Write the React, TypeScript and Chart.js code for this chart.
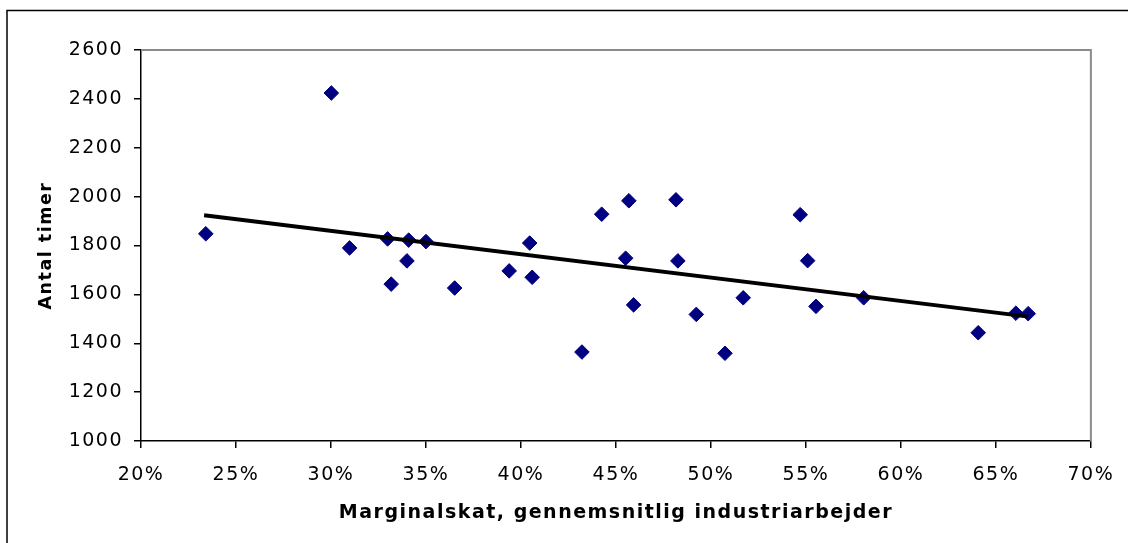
import React, { useEffect, useRef } from 'react';
import { Chart, registerables } from 'chart.js';

Chart.register(...registerables);

// Marginal tax rate (%) for an average industrial worker
const taxRates = [23.41, 30.02, 30.98, 32.98, 33.17, 34.0, 34.09, 35.0, 36.51, 39.38, 40.46, 40.59, 43.21, 44.25, 45.68, 45.51, 45.93, 48.16, 48.26, 49.23, 50.74, 51.7, 54.7, 55.09, 55.53, 58.04, 64.07, 66.05, 66.7];
// Annual working hours
const hours = [1848, 2424, 1790, 1827, 1642, 1737, 1822, 1816, 1626, 1696, 1810, 1670, 1364, 1928, 1983, 1748, 1557, 1987, 1737, 1518, 1359, 1586, 1926, 1738, 1551, 1586, 1443, 1523, 1521];
// Linear trend line end points
const trendX = [23.32, 66.7];
const trendY = [1924, 1509];

const xMin = 20;
const xMax = 70;
const xStep = 5;
const yMin = 1000;
const yMax = 2600;
const yStep = 200;

const xTitle = 'Marginalskat, gennemsnitlig industriarbejder';
const yTitle = 'Antal timer';

const FONT = '"DejaVu Sans", sans-serif';

const framePlugin = {
  id: 'framePlugin',
  beforeDraw(chart: any) {
    const ctx = chart.ctx;
    ctx.letterSpacing = '1.5px';
  },
  afterDraw(chart: any) {
    const ctx = chart.ctx;
    const { top, right, bottom } = chart.chartArea;
    ctx.save();
    ctx.letterSpacing = '0px';
    // gray top & right border of plot area
    ctx.strokeStyle = '#8c8c8c';
    ctx.lineWidth = 2;
    ctx.beginPath();
    ctx.moveTo(chart.chartArea.left, top);
    ctx.lineTo(right, top);
    ctx.lineTo(right, bottom);
    ctx.stroke();
    // outer frame
    ctx.strokeStyle = '#000000';
    ctx.lineWidth = 1.5;
    ctx.strokeRect(7, 10.5, 1300, 700);
    ctx.restore();
  },
};

export default function App() {
  const canvasRef = useRef<HTMLCanvasElement | null>(null);

  useEffect(() => {
    const canvas = canvasRef.current;
    if (!canvas) return;
    const scatterData = taxRates.map((x, i) => ({ x, y: hours[i] }));
    const trendData = trendX.map((x, i) => ({ x, y: trendY[i] }));

    const chart = new Chart(canvas, {
      type: 'scatter',
      data: {
        datasets: [
          {
            type: 'scatter',
            label: 'Lande',
            data: scatterData,
            pointStyle: 'rectRot',
            pointRadius: 7.3,
            pointHoverRadius: 7.3,
            backgroundColor: '#000080',
            borderColor: '#000080',
            borderWidth: 1,
            order: 1,
          },
          {
            type: 'line',
            label: 'Trend',
            data: trendData,
            borderColor: '#000000',
            borderWidth: 4,
            pointRadius: 0,
            fill: false,
            tension: 0,
            order: 0,
          },
        ],
      },
      options: {
        animation: false,
        responsive: false,
        maintainAspectRatio: false,
        layout: { padding: { left: 0, top: 50, right: 36, bottom: 0 } },
        plugins: {
          legend: { display: false },
          tooltip: { enabled: false },
        },
        scales: {
          x: {
            type: 'linear',
            min: xMin,
            max: xMax,
            afterFit: (scale: any) => {
              scale.height = 102;
            },
            ticks: {
              stepSize: xStep,
              autoSkip: false,
              maxRotation: 0,
              color: '#000',
              padding: 16,
              font: { family: FONT, size: 19 },
              callback: (v: any) => `${v}%`,
            },
            grid: {
              drawOnChartArea: false,
              drawTicks: true,
              tickLength: 7,
              color: '#000',
              lineWidth: 1.5,
            },
            border: { color: '#000', width: 1.5 },
            title: {
              display: true,
              text: xTitle,
              color: '#000',
              font: { family: FONT, size: 19, weight: 'bold' },
              padding: { top: 0, bottom: 19 },
            },
          },
          y: {
            type: 'linear',
            min: yMin,
            max: yMax,
            afterFit: (scale: any) => {
              scale.width = 141;
            },
            ticks: {
              stepSize: yStep,
              color: '#000',
              padding: 11,
              font: { family: FONT, size: 19 },
              callback: (v: any) => String(v),
            },
            grid: {
              drawOnChartArea: false,
              drawTicks: true,
              tickLength: 7,
              color: '#000',
              lineWidth: 1.5,
            },
            border: { color: '#000', width: 1.5 },
            title: {
              display: true,
              text: yTitle,
              color: '#000',
              font: { family: FONT, size: 17.5, weight: 'bold' },
              padding: { top: 36, bottom: 0 },
            },
          },
        },
      },
      plugins: [framePlugin],
    } as any);

    return () => {
      chart.destroy();
    };
  }, []);

  return (
    <div style={{ position: 'absolute', left: 0, top: 0, width: 1128, height: 543, background: '#fff' }}>
      <canvas ref={canvasRef} width={1128} height={543} style={{ display: 'block', width: 1128, height: 543 }} />
    </div>
  );
}
